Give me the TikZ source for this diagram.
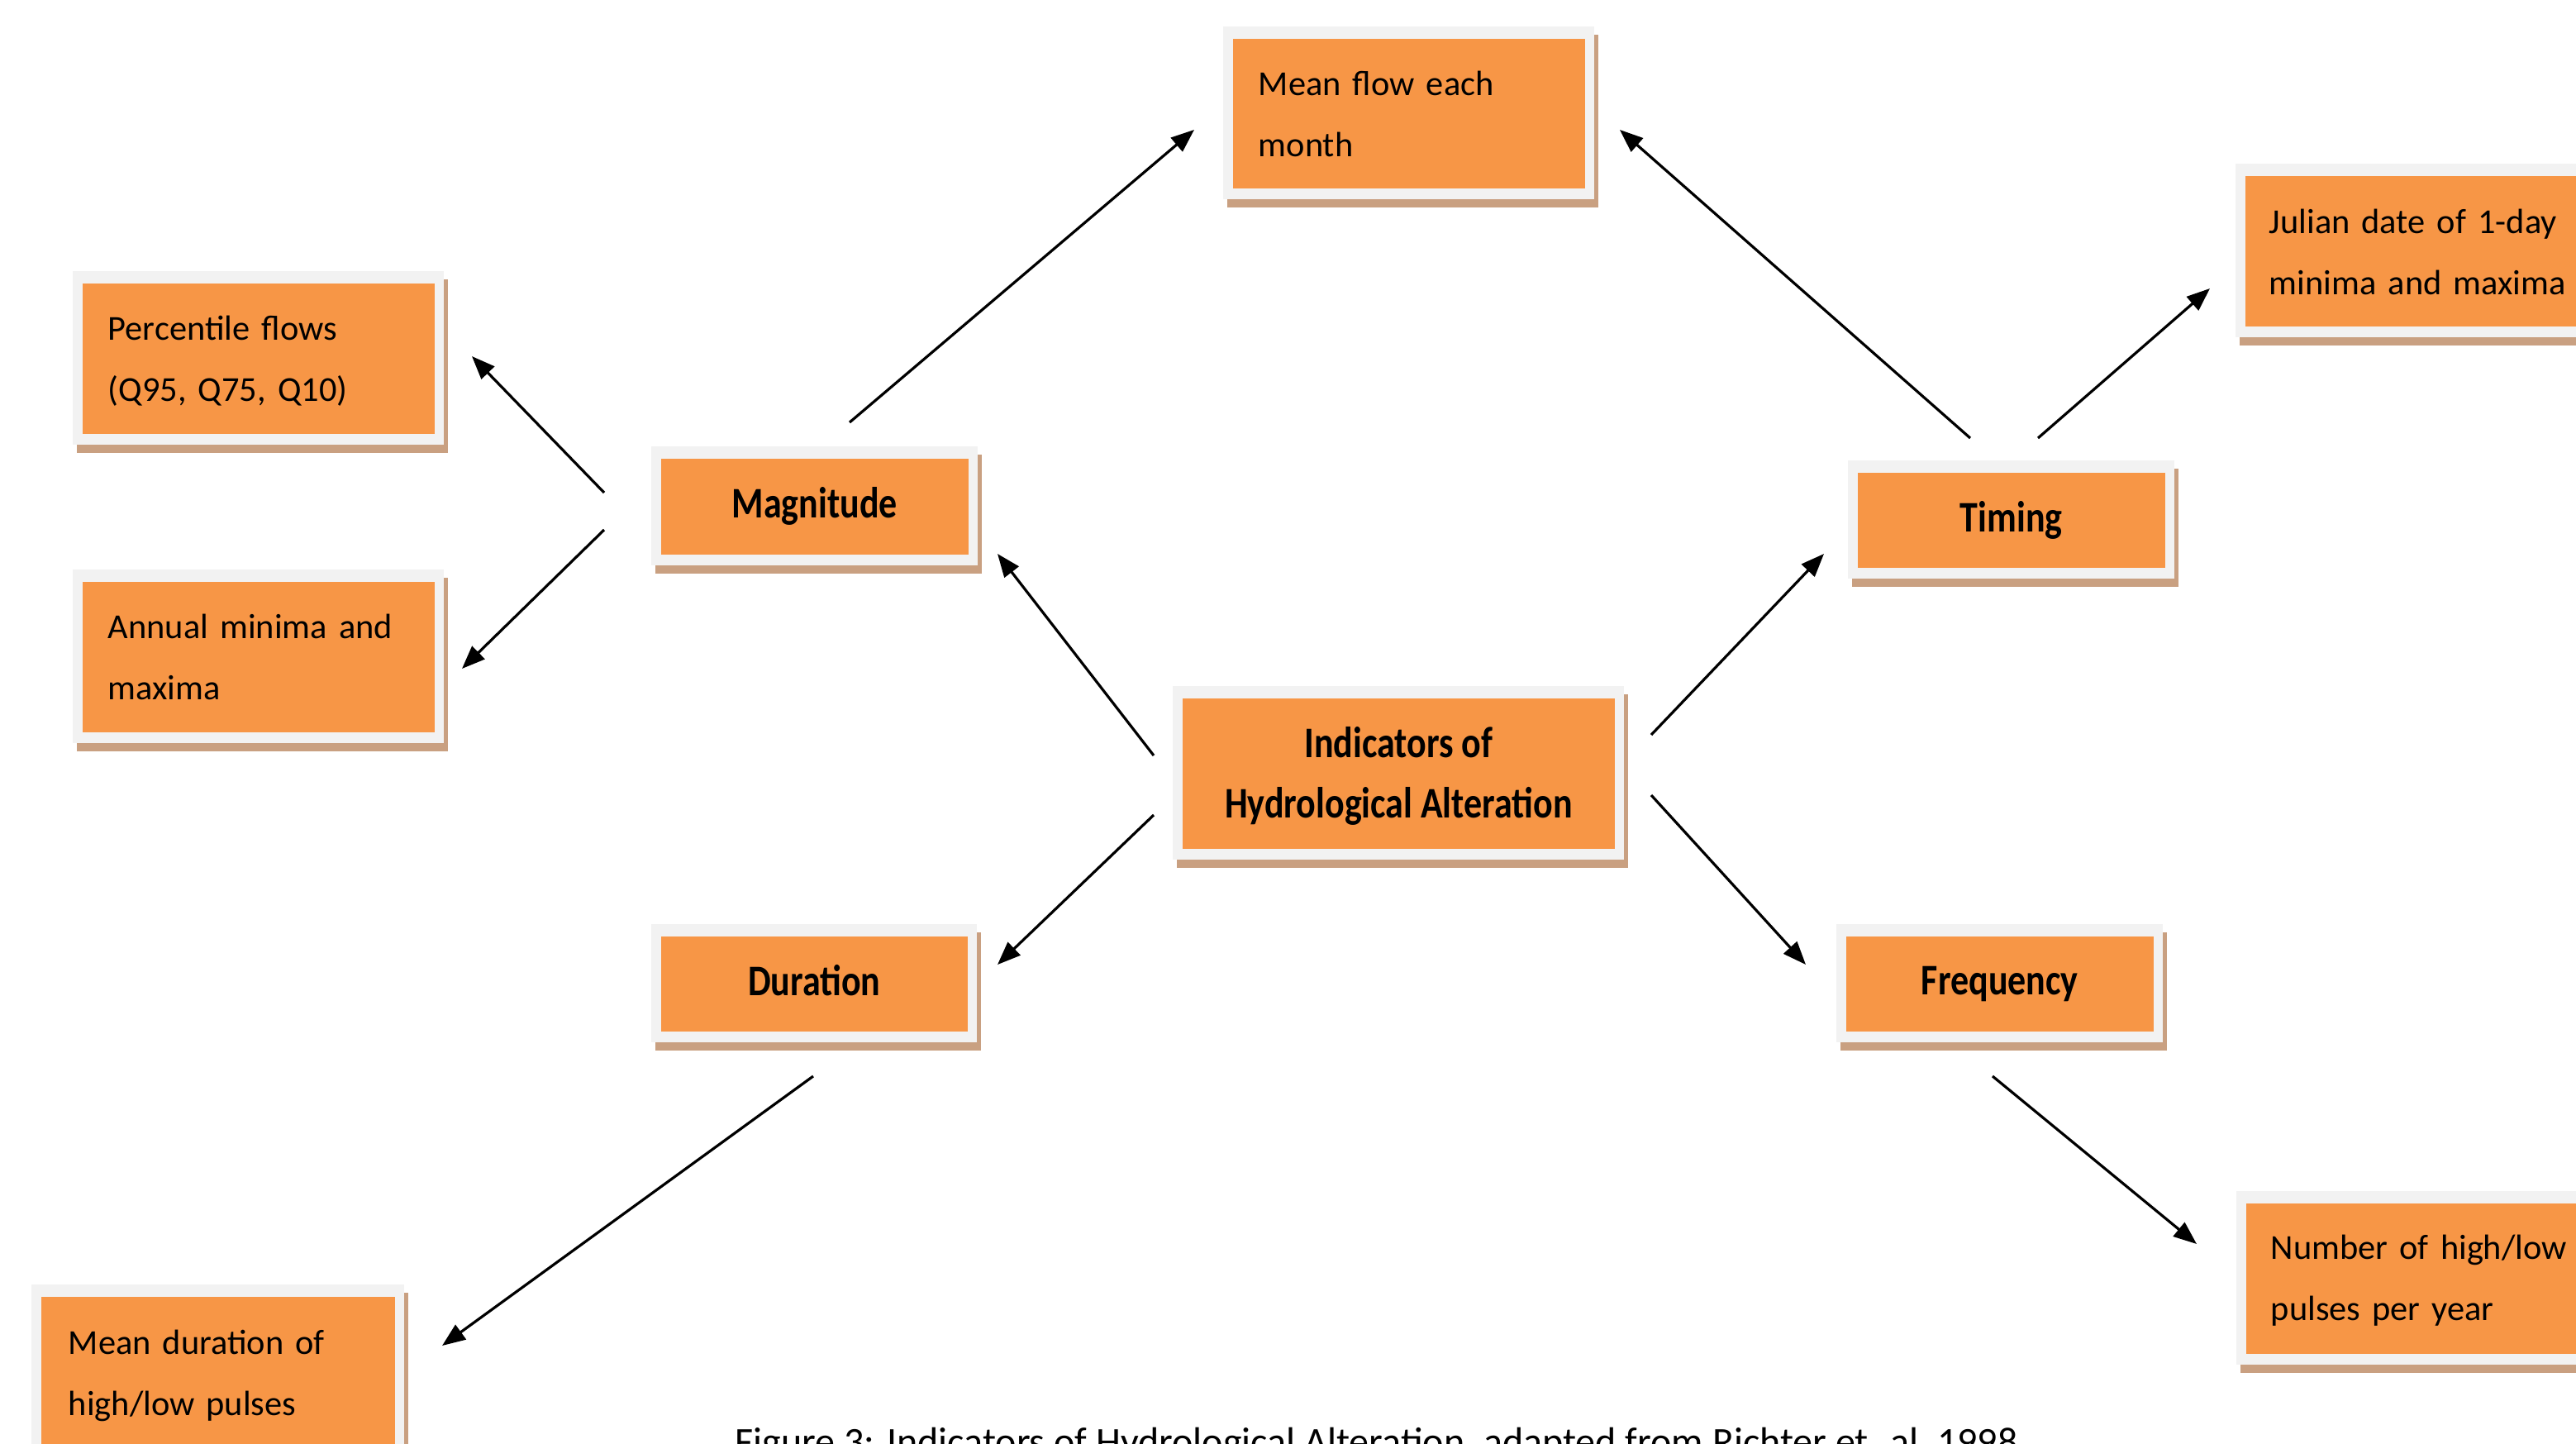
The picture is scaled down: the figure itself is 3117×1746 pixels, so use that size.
\documentclass[tikz,border=0pt]{standalone}
\usepackage{fontspec}
\setmainfont{Carlito}
\usepackage{graphicx}
\usetikzlibrary{arrows.meta}
\definecolor{boxorange}{HTML}{F79646}
\definecolor{framegray}{HTML}{F2F2F2}
\definecolor{shadowtan}{HTML}{C9A081}
\tikzset{
  orangebox/.style={fill=boxorange, draw=none, inner sep=0pt, anchor=north west, align=center, font=\bfseries\fontsize{11pt}{18.25pt}\selectfont},
  bodytxt/.style={anchor=base west, inner sep=0pt, align=left, text width=115pt, font=\fontsize{10.6pt}{18.5pt}\selectfont},
  conn/.style={line width=0.8pt, -{Triangle[length=7pt,width=5.4pt]}},
}
\newcommand\ihabox[6]{%
  \fill[shadowtan] (#2-6,#3-4) rectangle (#4+17,#5+24);
  \fill[framegray] (#2-11,#3-14) rectangle (#4+12,#5+14);
  \node[orangebox, minimum width={(#4-#2)*0.25pt}, minimum height={(#5-#3)*0.25pt}] (#1) at (#2,#3) {#6};
}
\newcommand\boldlbl[1]{\scalebox{1}[1.2]{#1}}
\begin{document}
\begin{tikzpicture}[x=0.25pt,y=-0.25pt]
\useasboundingbox (0,0) rectangle (3117,1746);
\clip (0,0) rectangle (3117,1746);
\fill[white] (0,0) rectangle (3117,1746);

% boxes
\ihabox{meanflow}{1491}{46}{1917}{227}{}
\ihabox{percentile}{99}{342}{525}{524}{}
\ihabox{annual}{99}{703}{525}{885}{}
\ihabox{julian}{2716}{212}{3170}{394}{}
\ihabox{number}{2717}{1455}{3170}{1637}{}
\ihabox{meandur}{49}{1568}{477}{1800}{}
\ihabox{magnitude}{799}{554}{1171}{670}{\boldlbl{Magnitude}}
\ihabox{timing}{2247}{571}{2619}{686}{\boldlbl{Timing}}
\ihabox{duration}{799}{1132}{1170}{1247}{\raisebox{2pt}{\boldlbl{Duration}}}
\ihabox{frequency}{2233}{1132}{2605}{1247}{\boldlbl{Frequency}}
\ihabox{indicators}{1430}{844}{1953}{1026}{\boldlbl{\begin{tabular}{@{}c@{}}Indicators of\\[-3pt]Hydrological Alteration\end{tabular}}}

% body texts
\node[bodytxt] (meanflow-t) at (1522,115) {Mean flow each\\month};
\node[bodytxt] (percentile-t) at (130,411) {Percentile flows\\(Q95, Q75, Q10)};
\node[bodytxt] (annual-t) at (130,772) {Annual minima and\\maxima};
\node[bodytxt] (julian-t) at (2745,282) {Julian date of 1-day\\minima and maxima};
\node[bodytxt] (number-t) at (2747,1523) {Number of high/low\\pulses per year};
\node[bodytxt] (meandur-t) at (82,1638) {Mean duration of\\high/low pulses};

% connector ends
\coordinate (a1s) at (731,596);  \coordinate (a1e) at (571,431);
\coordinate (a2s) at (731,641);  \coordinate (a2e) at (559,809);
\coordinate (a3s) at (1028,511); \coordinate (a3e) at (1445,157);
\coordinate (a4s) at (2384,530); \coordinate (a4e) at (1960,157);
\coordinate (a5s) at (2466,530); \coordinate (a5e) at (2674,349);
\coordinate (a6s) at (1396,914); \coordinate (a6e) at (1207,670);
\coordinate (a7s) at (1998,889); \coordinate (a7e) at (2207,670);
\coordinate (a8s) at (1396,986); \coordinate (a8e) at (1207,1167);
\coordinate (a9s) at (1998,962); \coordinate (a9e) at (2185,1167);
\coordinate (a10s) at (984,1302); \coordinate (a10e) at (535,1628);
\coordinate (a11s) at (2411,1302); \coordinate (a11e) at (2658,1505);

\draw[conn] (a1s) -- (a1e);
\draw[conn] (a2s) -- (a2e);
\draw[conn] (a3s) -- (a3e);
\draw[conn] (a4s) -- (a4e);
\draw[conn] (a5s) -- (a5e);
\draw[conn] (a6s) -- (a6e);
\draw[conn] (a7s) -- (a7e);
\draw[conn] (a8s) -- (a8e);
\draw[conn] (a9s) -- (a9e);
\draw[conn] (a10s) -- (a10e);
\draw[conn] (a11s) -- (a11e);

% caption
\node[anchor=base west, inner sep=0pt, font=\fontsize{12pt}{14pt}\selectfont] (caption) at (889,1760) {Figure 3: Indicators of Hydrological Alteration, adapted from Richter et. al, 1998};
\end{tikzpicture}
\end{document}
